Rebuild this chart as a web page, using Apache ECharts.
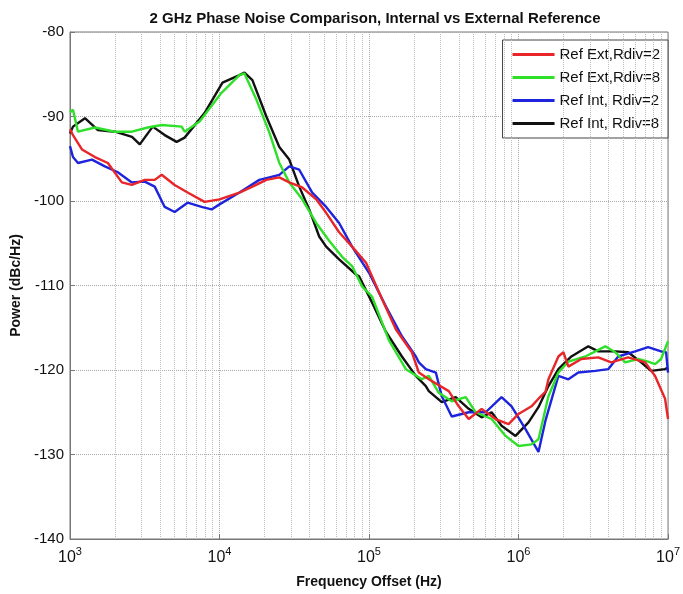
<!DOCTYPE html>
<html><head><meta charset="utf-8">
<script src="https://cdn.jsdelivr.net/npm/echarts@6/dist/echarts.min.js"></script>
<style>html,body{margin:0;padding:0;background:#fff}#c{width:683px;height:594px}</style>
</head><body><div id="c"></div>
<script>
const seriesNames = ['Ref Ext,Rdiv=2','Ref Ext,Rdiv=8','Ref Int, Rdiv=2','Ref Int, Rdiv=8'];
const colors = ['#e8262a','#2fe02a','#1e24dc','#111111'];
const yTicks = [-140,-130,-120,-110,-100,-90,-80];
const minorGridFreq = [2e3,3e3,4e3,5e3,6e3,7e3,8e3,9e3,2e4,3e4,4e4,5e4,6e4,7e4,8e4,9e4,2e5,3e5,4e5,5e5,6e5,7e5,8e5,9e5,2e6,3e6,4e6,5e6,6e6,7e6,8e6,9e6];

const redFreq = [1000,1047,1202,1468,1792,2222,2591,3162,3687,4105,5012,6118,7943,10000,13594,16596,20570,25119,29286,35755,44340,51674,63096,77019,95499,122130,151356,193420,215443,251189,341455,398107,464159,566239,702643,857696,1000000,1221020,1359356,1513561,1584893,1847850,1995262,2154435,2630268,3414549,4168694,5411695,7026468,8189040,9549926,10000000];
const redDb = [-91.5,-92.2,-93.9,-94.8,-95.5,-97.8,-98.1,-97.5,-97.5,-96.9,-98.1,-99,-100.1,-99.8,-99,-98.3,-97.5,-97.2,-97.8,-98.4,-99.8,-101.4,-103.7,-105.4,-107.3,-111.6,-115.2,-117.9,-120.3,-121.1,-122.5,-124.3,-125.8,-124.6,-125.8,-126.4,-125.2,-124.3,-123.4,-122.6,-121.1,-118.4,-117.9,-119.6,-118.7,-118.5,-119.1,-118.5,-119.1,-120.7,-123.4,-125.8];

const greenFreq = [1000,1047,1131,1468,1995,2591,3311,4105,5580,5843,7356,10312,13594,14678,17644,21544,25119,29286,35755,44340,54117,66069,77019,89833,104713,135936,176444,225598,251189,292864,357524,443403,516686,660693,818850,1000000,1221020,1359356,1584893,1847850,2154435,2797365,3801894,4433669,5166862,6309573,7356423,8189040,8983296,10000000];
const greenDb = [-89.5,-89.2,-91.8,-91.3,-91.8,-91.8,-91.3,-91,-91.2,-91.8,-90.6,-87.2,-85.1,-84.9,-88,-91.9,-95.5,-97.8,-99.8,-102.6,-104.7,-106.6,-107.7,-110.1,-111.3,-116.5,-119.9,-121.1,-120.7,-122.7,-123.7,-123.2,-125,-125.8,-127.8,-129,-128.8,-128.2,-123.1,-120.3,-119,-118.4,-117.2,-117.9,-119.1,-118.7,-119,-119.3,-118.7,-116.6];

const blueFreq = [1000,1047,1131,1402,1711,2089,2591,3162,3687,4299,5012,6118,7586,8844,10000,13594,18478,25119,29286,34145,41687,51674,63096,77019,100000,129837,165959,205589,215443,239883,279898,306668,357524,464159,602560,770195,898329,1113250,1359356,1513561,1847850,2154435,2511886,3261534,3981072,4641589,6025596,7356423,8983296,9698445,10000000];
const blueDb = [-93.5,-94.8,-95.5,-95.1,-95.9,-96.6,-97.8,-97.7,-98.3,-100.7,-101.3,-100.2,-100.7,-101,-100.4,-99,-97.5,-96.9,-95.9,-96.3,-99,-100.7,-102.6,-105.4,-108.5,-112.5,-116,-118.4,-119.1,-119.9,-120.3,-123.1,-125.5,-125,-125,-123.2,-124.3,-127,-129.7,-126,-120.7,-121.1,-120.3,-120.1,-119.9,-118.4,-117.8,-117.3,-117.8,-117.9,-120.3];

const blackFreq = [1000,1047,1259,1537,2000,2600,2929,3575,4299,5168,5843,7943,10471,13594,14678,16596,20570,25119,29286,34145,39811,46416,51674,63096,81911,85770,104713,129837,165959,205589,239883,251189,306668,380189,464159,566239,660693,770195,954993,1165914,1359356,1584893,1847850,2255979,2929645,3414549,4433669,5411695,6606934,7701946,9549926,10000000];
const blackDb = [-92,-91.2,-90.2,-91.6,-91.8,-92.4,-93.3,-91.2,-92.2,-93,-92.5,-89.6,-86,-85.1,-84.8,-85.7,-90,-93.6,-95.1,-98.3,-101,-104.2,-105.4,-106.9,-108.7,-108.9,-112,-115.5,-118.4,-120.7,-121.9,-122.5,-123.8,-123.2,-124.6,-125.6,-125,-126.6,-127.8,-126.2,-124.4,-121.9,-119.9,-118.4,-117.2,-117.8,-117.8,-117.9,-119.1,-120.1,-119.9,-119.7];

const freqs = [redFreq, greenFreq, blueFreq, blackFreq];
const dbs = [redDb, greenDb, blueDb, blackDb];

const chart = echarts.init(document.getElementById('c'));
const font = 'Liberation Sans, Arial, sans-serif';
const series = seriesNames.map((n, i) => {
  const s = {
    name: n, type: 'line', showSymbol: false, symbol: 'none',
    data: freqs[i].map((f, k) => [f, dbs[i][k]]),
    lineStyle: { color: colors[i], width: 2.4 }, itemStyle: { color: colors[i] },
    z: 10 - i
  };
  if (i === 0) s.markLine = {
    silent: true, symbol: 'none', label: { show: false },
    lineStyle: { type: 'dotted', color: '#bdbdbd', width: 1 },
    data: minorGridFreq.map(v => ({ xAxis: v }))
  };
  return s;
});

chart.setOption({
  animation: false,
  backgroundColor: '#fff',
  title: {
    text: '2 GHz Phase Noise Comparison, Internal vs External Reference',
    left: 370, top: 6, textAlign: 'center',
    textStyle: { fontFamily: font, fontSize: 15, fontWeight: 'bold', color: '#111' }
  },
  grid: { left: 70, right: 13, top: 32, bottom: 54, show: true, borderColor: '#777', borderWidth: 1 },
  legend: {
    data: seriesNames, orient: 'vertical', right: 15, top: 40,
    backgroundColor: '#fff', borderColor: '#444', borderWidth: 1,
    padding: [7, 8, 7, 10], itemGap: 8, itemWidth: 42, itemHeight: 3, icon: 'rect',
    textStyle: { fontFamily: font, fontSize: 15, color: '#111' }
  },
  xAxis: {
    type: 'log', logBase: 10, min: 1000, max: 1e7,
    name: 'Frequency Offset (Hz)', nameLocation: 'middle', nameGap: 36,
    nameTextStyle: { fontFamily: font, fontSize: 14, fontWeight: 'bold', color: '#111' },
    axisLine: { lineStyle: { color: '#777' } },
    axisTick: { inside: true, length: 5, lineStyle: { color: '#777' } },
    splitLine: { show: true, lineStyle: { type: 'dotted', color: '#aaa' } },
    axisLabel: {
      margin: 7,
      formatter: v => '{b|10}{s|' + Math.round(Math.log10(v)) + '}',
      rich: {
        b: { fontFamily: font, fontSize: 16, color: '#111', verticalAlign: 'bottom' },
        s: { fontFamily: font, fontSize: 11, color: '#111', verticalAlign: 'bottom', padding: [0, 0, 9, 0] }
      }
    }
  },
  yAxis: {
    type: 'value', min: -140, max: -80, interval: 10,
    name: 'Power (dBc/Hz)', nameLocation: 'middle', nameGap: 46,
    nameTextStyle: { fontFamily: font, fontSize: 14, fontWeight: 'bold', color: '#111' },
    axisLine: { show: true, lineStyle: { color: '#777' } },
    axisTick: { show: true, inside: true, length: 5, lineStyle: { color: '#777' } },
    splitLine: { show: true, lineStyle: { type: 'dotted', color: '#aaa' } },
    axisLabel: { fontFamily: font, fontSize: 15, color: '#111', margin: 6,
      formatter: v => yTicks.includes(v) ? String(v) : '' }
  },
  series: series
});
</script></body></html>
